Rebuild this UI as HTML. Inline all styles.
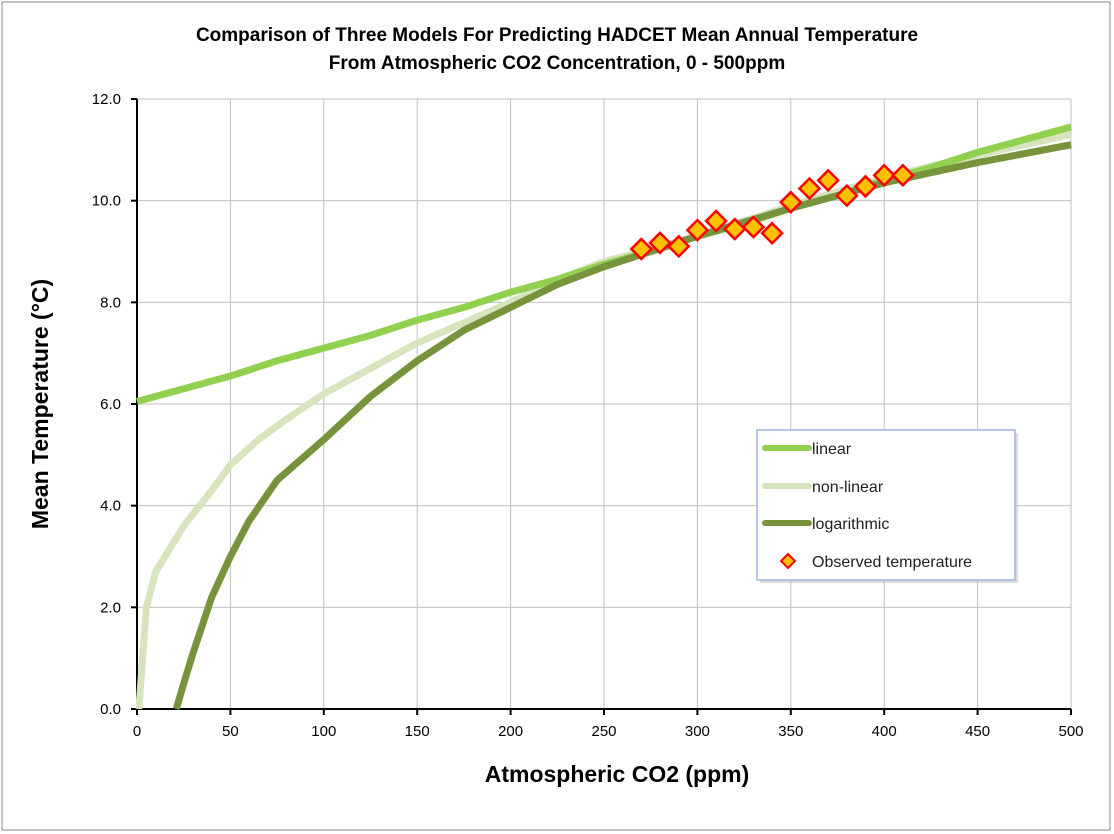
<!DOCTYPE html>
<html><head><meta charset="utf-8"><style>
body{margin:0;background:#fff;}
svg{display:block;font-family:"Liberation Sans",sans-serif;}
</style></head><body>
<svg id="c" width="1114" height="834" viewBox="0 0 1114 834">
<rect x="2" y="2" width="1108" height="828" fill="#fff" stroke="#888" stroke-width="1"/>
<text x="557" y="41" text-anchor="middle" font-size="19" font-weight="bold">Comparison of Three Models For Predicting HADCET Mean Annual Temperature</text>
<text x="557" y="69" text-anchor="middle" font-size="19" font-weight="bold">From Atmospheric CO2 Concentration, 0 - 500ppm</text>
<g id="grid"></g><g id="axes"></g><g id="series"></g>
<text x="617" y="782" text-anchor="middle" font-size="23" font-weight="bold">Atmospheric CO2 (ppm)</text>
<text transform="translate(48,404) rotate(-90)" text-anchor="middle" font-size="23" font-weight="bold">Mean Temperature (°C)</text>
<g>
<rect x="760" y="433" width="258" height="150" fill="#bbb" opacity="0.5"/>
<rect x="757" y="430" width="258" height="150" fill="#fff" stroke="#9fb4dd" stroke-width="1.5"/>
<line x1="765" y1="448" x2="809" y2="448" stroke="#92d050" stroke-width="6" stroke-linecap="round"/>
<text x="812" y="454" font-size="16" fill="#222">linear</text>
<line x1="765" y1="486" x2="809" y2="486" stroke="#d7e4bd" stroke-width="6" stroke-linecap="round"/>
<text x="812" y="492" font-size="16" fill="#222">non-linear</text>
<line x1="765" y1="523" x2="809" y2="523" stroke="#77933c" stroke-width="6" stroke-linecap="round"/>
<text x="812" y="529" font-size="16" fill="#222">logarithmic</text>
<polygon points="788,554 795,561 788,568 781,561" fill="#ffc000" stroke="#f00" stroke-width="2"/>
<text x="812" y="567" font-size="16" fill="#222">Observed temperature</text>
</g>
</svg>
<script>
const xTicks=[0,50,100,150,200,250,300,350,400,450,500];
const yTicks=[0,2,4,6,8,10,12];
const linX=[0,25,50,75,100,125,150,175,200,225,250,275,300,325,350,375,400,425,450,475,500];
const linY=[6.05,6.3,6.55,6.85,7.1,7.35,7.65,7.9,8.2,8.45,8.75,9.0,9.3,9.55,9.85,10.1,10.4,10.65,10.95,11.2,11.45];
const nlX=[1,5,10,25,40,50,65,80,100,125,150,175,200,225,250,300,350,400,450,500];
const nlY=[0,2,2.7,3.6,4.3,4.8,5.3,5.7,6.2,6.7,7.2,7.6,8.0,8.45,8.8,9.3,9.9,10.45,10.9,11.3];
const logX=[21,25,30,40,50,60,75,100,125,150,175,200,225,250,300,350,400,450,500];
const logY=[0,0.5,1.1,2.2,3.0,3.7,4.5,5.3,6.15,6.85,7.45,7.9,8.35,8.7,9.3,9.85,10.35,10.75,11.1];
const obsX=[270,280,290,300,310,320,330,340,350,360,370,380,390,400,410];
const obsY=[9.05,9.17,9.1,9.42,9.6,9.44,9.48,9.36,9.97,10.24,10.4,10.1,10.28,10.5,10.5];
const X0=137,X1=1071,Y0=709,Y1=99;
const sx=v=>X0+(X1-X0)*v/500, sy=v=>Y0-(Y0-Y1)*v/12;
const NS='http://www.w3.org/2000/svg';
function mk(tag,attrs,parent){const e=document.createElementNS(NS,tag);for(const k in attrs)e.setAttribute(k,attrs[k]);parent.appendChild(e);return e;}
const grid=document.getElementById('grid'),axes=document.getElementById('axes'),ser=document.getElementById('series');
xTicks.forEach(t=>{
 const g=mk('line',{x1:sx(t),x2:sx(t),y1:Y1,y2:Y0,stroke:'#c0c0c0','stroke-width':1},grid);
 
 
 mk('line',{x1:sx(t),x2:sx(t),y1:Y0,y2:Y0+6,stroke:'#000','stroke-width':2},axes);
 const l=mk('text',{x:sx(t),y:Y0+27,'text-anchor':'middle','font-size':15},axes);l.textContent=t;
 
 
});
yTicks.forEach(t=>{
 const g=mk('line',{x1:X0,x2:X1,y1:sy(t),y2:sy(t),stroke:'#c0c0c0','stroke-width':1},grid);
 
 
 mk('line',{x1:X0-6,x2:X0,y1:sy(t),y2:sy(t),stroke:'#000','stroke-width':2},axes);
 const l=mk('text',{x:X0-16,y:sy(t)+5,'text-anchor':'end','font-size':15},axes);l.textContent=t.toFixed(1);
 
 
});
const xa=mk('line',{x1:X0,x2:X1,y1:Y0,y2:Y0,stroke:'#000','stroke-width':2},axes);


const ya=mk('line',{x1:X0,x2:X0,y1:Y1,y2:Y0,stroke:'#000','stroke-width':2},axes);


function line(xs,ys,col,name){
 const p=mk('polyline',{points:xs.map((x,i)=>sx(x)+','+sy(ys[i])).join(' '),fill:'none',stroke:col,'stroke-width':7,'stroke-linejoin':'round'},ser);
 
 
}
line(nlX,nlY,'#d7e4bd','nonlinear-line');
line(linX,linY,'#92d050','linear-line');
line(logX,logY,'#77933c','logarithmic-line');
obsX.forEach((x,i)=>{
 const cx=sx(x),cy=sy(obsY[i]);
 const m=mk('polygon',{points:`${cx},${cy-10} ${cx+10},${cy} ${cx},${cy+10} ${cx-10},${cy}`,fill:'#ffc000',stroke:'#f00','stroke-width':2.5},ser);
 
 
});
</script>
</body></html>
